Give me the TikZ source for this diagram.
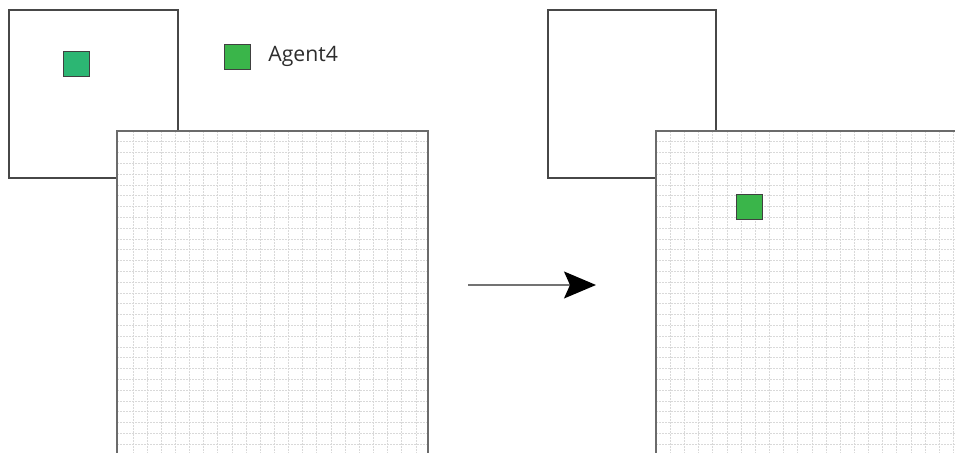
\documentclass[tikz,border=0pt]{standalone}
\usepackage{fontspec}
\newfontfamily\labelfont{Open Sans}
\usetikzlibrary{arrows.meta}

\definecolor{agentteal}{RGB}{44,182,115}
\definecolor{agentgreen}{RGB}{58,181,74}
\definecolor{labelgray}{RGB}{45,45,45}

\tikzset{
  frame/.style={draw=black!72, line width=0.8pt},
  sheet/.style={draw=black!58, line width=1pt},
  gridline/.style={draw=black!15, line width=0.5pt, dash pattern=on 1pt off 0.5pt},
  agent/.style={draw=black!75, line width=0.6pt, inner sep=0pt, anchor=north west,
                minimum width=13pt, minimum height=12.5pt},
  flow/.style={draw=black!55, line width=0.7pt,
               -{Stealth[length=16pt, width=13.5pt, inset=3pt, color=black]}}
}

\begin{document}
\begin{tikzpicture}[x=0.5pt, y=-0.5pt]
  \useasboundingbox (0,0) rectangle (955,453);
  \clip (0,0) rectangle (955,453);

  % ---------- left state ----------
  \node[frame, inner sep=0pt, anchor=north west, minimum width=84.5pt, minimum height=84pt]
    (viewL) at (8,9) {};
  \node[agent, fill=agentteal] (agentL) at (63,51) {};

  % grid sheet (left)
  \fill[white] (117,131) rectangle (428,470);
  \begin{scope}
    \clip (117,131) rectangle (428,470);
    \foreach \i in {0,...,20}
      \draw[gridline] ({133+14.15*\i},131) -- ({133+14.15*\i},470);
    \foreach \j in {0,...,30}
      \draw[gridline] (117,{142+10.8*\j}) -- (428,{142+10.8*\j});
  \end{scope}
  \draw[sheet] (117,470) -- (117,131) -- (428,131) -- (428,470);

  % legend
  \node[agent, fill=agentgreen] (legend) at (224,44) {};
  \node[anchor=base west, inner sep=0pt, text=labelgray, font=\labelfont\fontsize{10.6pt}{12pt}\selectfont]
    (legendtext) at (268,62) {Agent4};

  % ---------- transition ----------
  \coordinate (arrowstart) at (468,285);
  \coordinate (arrowend) at (596,285);
  \draw[flow] (arrowstart) -- (arrowend);

  % ---------- right state ----------
  \node[frame, inner sep=0pt, anchor=north west, minimum width=84pt, minimum height=84pt]
    (viewR) at (547,9) {};

  \fill[white] (656,131) rectangle (970,470);
  \begin{scope}
    \clip (656,131) rectangle (970,470);
    \foreach \i in {0,...,21}
      \draw[gridline] ({670.5+14.15*\i},131) -- ({670.5+14.15*\i},470);
    \foreach \j in {0,...,30}
      \draw[gridline] (656,{142+10.8*\j}) -- (970,{142+10.8*\j});
  \end{scope}
  \draw[sheet] (656,470) -- (656,131) -- (970,131);

  \node[agent, fill=agentgreen] (agentR) at (736,194) {};
\end{tikzpicture}
\end{document}
